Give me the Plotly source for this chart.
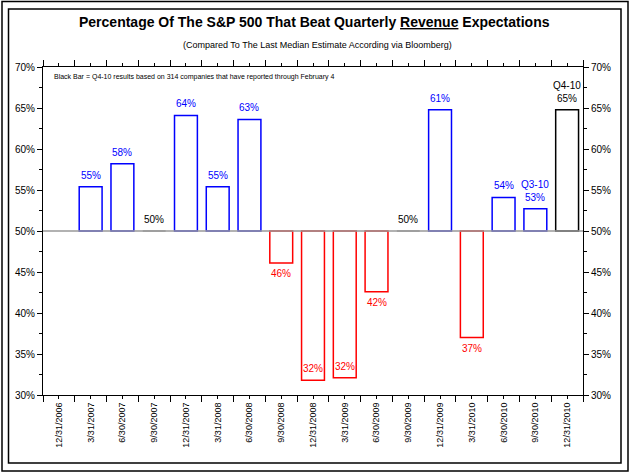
import plotly.graph_objects as go

dates = ["12/31/2006", "3/31/2007", "6/30/2007", "9/30/2007", "12/31/2007", "3/31/2008",
         "6/30/2008", "9/30/2008", "12/31/2008", "3/31/2009", "6/30/2009", "9/30/2009",
         "12/31/2009", "3/31/2010", "6/30/2010", "9/30/2010", "12/31/2010"]
values = [None, 55.4, 58.2, 50.0, 64.1, 55.4, 63.6, 46.1, 31.8, 32.1, 42.6, 50.0,
          64.8, 37.0, 54.1, 52.7, 64.8]
labels = ["", "55%", "58%", "50%", "64%", "55%", "63%", "46%", "32%", "32%", "42%", "50%",
          "61%", "37%", "54%", "Q3-10<br>53%", "Q4-10<br>65%"]
baseline = 50
y_ticks = [30, 35, 40, 45, 50, 55, 60, 65, 70]
y_tick_labels = ["30%", "35%", "40%", "45%", "50%", "55%", "60%", "65%", "70%"]

BLUE = "#0000FF"
RED = "#FF0000"
BLACK = "#000000"
GREY = "#999999"

xs = list(range(len(dates)))


def colour(i, v):
    if i == len(values) - 1:
        return BLACK
    if v > baseline:
        return BLUE
    if v < baseline:
        return RED
    return BLACK


bar_x, bar_y, bar_col = [], [], []
for i, v in enumerate(values):
    if v is None:
        continue
    bar_x.append(i)
    bar_y.append(v - baseline)
    bar_col.append(GREY if v == baseline else colour(i, v))

fig = go.Figure()
fig.add_trace(go.Bar(
    x=bar_x, y=bar_y, base=baseline, width=0.72,
    marker=dict(color="white", line=dict(color=bar_col, width=1.5)),
    hoverinfo="skip", showlegend=False,
))
fig.add_trace(go.Scatter(x=[0], y=[None], yaxis="y2", showlegend=False, hoverinfo="skip"))

label_font = "Liberation Sans, Arial"
annotations = []
for i, v in enumerate(values):
    if v is None:
        continue
    above = v >= baseline or v < 35
    annotations.append(dict(
        x=i, y=v, xref="x", yref="y", text=labels[i], showarrow=False,
        xanchor="center", yanchor="bottom" if above else "top",
        yshift=4 if above else -3,
        font=dict(family=label_font, size=10, color=colour(i, v)),
    ))

L, R, T, B = 43, 583, 67, 395
W, H = 630, 473


def px(xp):
    return (xp - L) / (R - L)


def py(yp):
    return (B - yp) / (B - T)


shapes = [
    dict(type="line", xref="x", yref="y", x0=-0.5, x1=len(dates) - 0.5, y0=baseline, y1=baseline,
         line=dict(color=GREY, width=1.5), layer="above"),
    dict(type="rect", xref="paper", yref="paper", x0=px(2), x1=px(628), y0=py(1.5), y1=py(471),
         line=dict(color="black", width=1.5)),
    dict(type="rect", xref="paper", yref="paper", x0=px(8.5), x1=px(621), y0=py(9), y1=py(463),
         line=dict(color="black", width=1.5)),
]

annotations += [
    dict(text='<b>Percentage Of The S&P 500 That Beat Quarterly <span style="text-decoration:underline">Revenue</span> Expectations</b>',
         xref="paper", yref="paper", x=px(314), y=py(22), showarrow=False,
         font=dict(family="Liberation Sans, Arial", size=14, color="black"),
         xanchor="center", yanchor="middle"),
    dict(text="(Compared To The Last Median Estimate According via Bloomberg)",
         xref="paper", yref="paper", x=px(317), y=py(45), showarrow=False,
         font=dict(family="Liberation Sans, Arial", size=9, color="black"),
         xanchor="center", yanchor="middle"),
    dict(text="Black Bar = Q4-10 results based on 314 companies that have reported through February 4",
         xref="paper", yref="paper", x=px(52), y=py(77), showarrow=False,
         font=dict(family="Liberation Sans Narrow, Liberation Sans, Arial", size=7, color="black"),
         xanchor="left", yanchor="middle"),
]

axis_font = dict(family="Liberation Sans, Arial", size=10, color="black")
xaxis_font = dict(family="Liberation Sans, Arial", size=9, color="black")
fig.update_layout(
    width=W, height=H,
    margin=dict(l=L, r=W - R, t=T, b=H - B),
    paper_bgcolor="white", plot_bgcolor="white",
    bargap=0.28,
    xaxis=dict(
        range=[-0.5, len(dates) - 0.5],
        tickmode="array", tickvals=xs, ticktext=dates, tickangle=-90,
        ticks="outside", ticklen=3, tickcolor="black",
        minor=dict(tickmode="array", tickvals=[i - 0.5 for i in range(len(dates) + 1)],
                   ticks="outside", ticklen=6, tickcolor="black"),
        showline=True, linecolor="black", linewidth=1, mirror="ticks",
        showgrid=False, zeroline=False, tickfont=xaxis_font,
    ),
    yaxis=dict(
        range=[30, 70], tickmode="array", tickvals=y_ticks, ticktext=y_tick_labels,
        ticks="outside", ticklen=5, tickcolor="black",
        minor=dict(dtick=2.5, tick0=30, ticks="outside", ticklen=3, tickcolor="black"),
        showline=True, linecolor="black", linewidth=1,
        showgrid=False, zeroline=False, tickfont=axis_font,
    ),
    yaxis2=dict(
        range=[30, 70], overlaying="y", side="right", tickmode="array", tickvals=y_ticks,
        ticktext=y_tick_labels, ticks="outside", ticklen=5, tickcolor="black",
        minor=dict(dtick=2.5, tick0=30, ticks="outside", ticklen=3, tickcolor="black"),
        showline=True, linecolor="black", linewidth=1,
        showgrid=False, zeroline=False, tickfont=axis_font,
    ),
    shapes=shapes,
    annotations=annotations,
)

fig.write_html("out.html", config={"displayModeBar": False},
               post_script="document.body.style.margin='0px';")
